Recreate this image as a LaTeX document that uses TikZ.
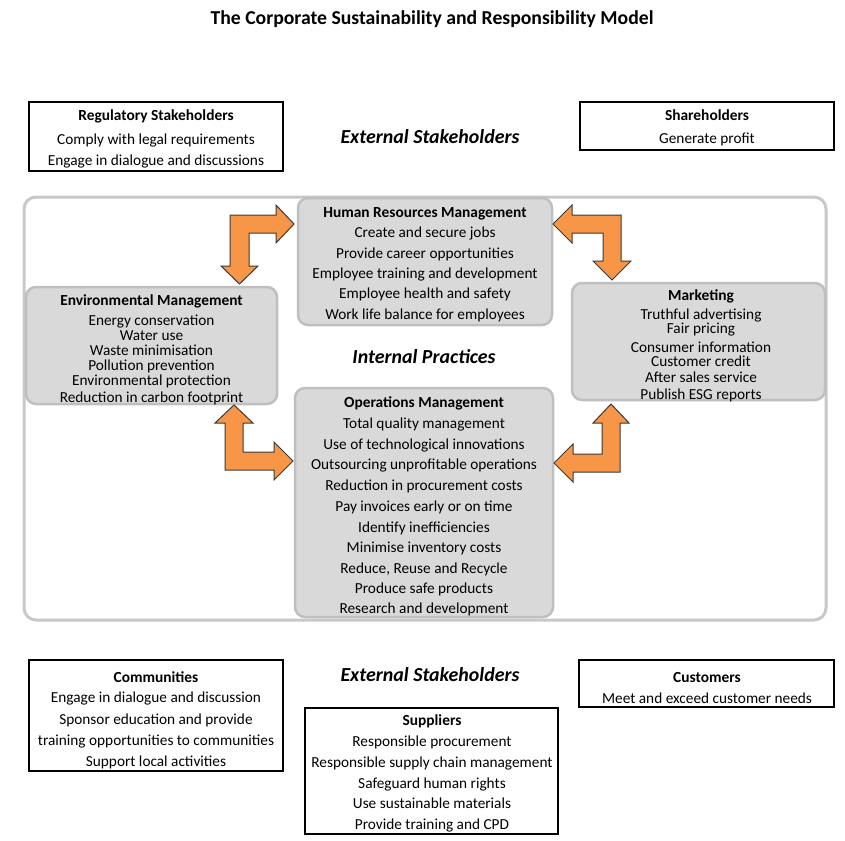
\documentclass[tikz,border=0pt]{standalone}
\usepackage{fontspec}
\setmainfont{Carlito}
\definecolor{boxfill}{HTML}{D9D9D9}
\definecolor{boxborder}{HTML}{BFBFBF}
\definecolor{outerborder}{HTML}{C8C8C8}
\definecolor{arrorange}{HTML}{F79646}
\definecolor{arrline}{HTML}{3A3A3A}
\begin{document}
\begin{tikzpicture}[x=1pt,y=-1pt,
  outbox/.style={draw=black, line width=1.3pt, fill=white, inner sep=0pt},
  inbox/.style={draw=boxborder, line width=2.5pt, fill=boxfill, rounded corners=10pt, inner sep=0pt},
  bigbox/.style={draw=outerborder, line width=3pt, fill=white, rounded corners=12pt, inner sep=0pt},
  hd/.style={font=\bfseries\fontsize{15.4}{17}\selectfont, inner sep=0pt, anchor=base, yshift=-5.2pt},
  ln/.style={font=\fontsize{15.3}{17}\selectfont, inner sep=0pt, anchor=base, yshift=-5.2pt},
  big/.style={font=\bfseries\itshape\fontsize{19.9}{22}\selectfont, inner sep=0pt, anchor=base, yshift=-6.8pt},
  arr/.style={fill=arrorange, draw=arrline, line width=1pt, line join=miter}]
\useasboundingbox (0,0) rectangle (845,840);

% title
\node[font=\bfseries\fontsize{19.7}{22}\selectfont, inner sep=0pt, anchor=base, yshift=-6.7pt] (title) at (432,18) {The Corporate Sustainability and Responsibility Model};

% outer boxes
\node[outbox, minimum width=254, minimum height=69] (reg) at (156,136.5) {};
\node[outbox, minimum width=254, minimum height=48] (share) at (707,126) {};
\node[outbox, minimum width=254, minimum height=111] (comm) at (156,715.5) {};
\node[outbox, minimum width=255, minimum height=47] (cust) at (706.5,683.5) {};
\node[outbox, minimum width=253, minimum height=126] (supp) at (431.5,771) {};

% big rounded frame
\node[bigbox, minimum width=802, minimum height=423] (frame) at (425,408.5) {};

% inner boxes
\node[inbox, minimum width=254, minimum height=127] (hrm) at (425,261.5) {};
\node[inbox, minimum width=251, minimum height=117] (env) at (151.5,345.5) {};
\node[inbox, minimum width=253, minimum height=117] (mkt) at (698.5,341.5) {};
\node[inbox, minimum width=258, minimum height=229] (ops) at (424,502.5) {};

% section labels
\node[big] (ext1) at (430,137) {External Stakeholders};
\node[big] (ext2) at (430,675) {External Stakeholders};
\node[big] (intp) at (424,357) {Internal Practices};

% Regulatory
\node[hd] (regh) at (156,115) {Regulatory Stakeholders};
\node[ln] (reg1) at (156,139) {Comply with legal requirements};
\node[ln] (reg2) at (156,160) {Engage in dialogue and discussions};

% Shareholders
\node[hd] (shareh) at (707,115) {Shareholders};
\node[ln] (share1) at (707,138) {Generate profit};

% HRM
\node[hd] (hrmh) at (425,212) {Human Resources Management};
\foreach \t/\yy [count=\i] in {Create and secure jobs/232, Provide career opportunities/253, Employee training and development/273, Employee health and safety/293, Work life balance for employees/314}
  \node[ln] (hrm\i) at (425,\yy) {\t};

% Environmental
\node[hd] (envh) at (151.5,300) {Environmental Management};
\foreach \t/\yy [count=\i] in {Energy conservation/320.5, Water use/335, Waste minimisation/350.5, Pollution prevention/365, Environmental protection/380, Reduction in carbon footprint/397}
  \node[ln] (env\i) at (151.5,\yy) {\t};

% Marketing
\node[hd] (mkth) at (701,295) {Marketing};
\foreach \t/\yy [count=\i] in {Truthful advertising/314, Fair pricing/328, Consumer information/347, Customer credit/361, After sales service/377, Publish ESG reports/394}
  \node[ln] (mkt\i) at (701,\yy) {\t};

% Operations
\node[hd] (opsh) at (424,402) {Operations Management};
\foreach \t/\yy [count=\i] in {Total quality management/423, Use of technological innovations/444, Outsourcing unprofitable operations/464, Reduction in procurement costs/485, Pay invoices early or on time/506, Identify inefficiencies/527, Minimise inventory costs/547, {Reduce, Reuse and Recycle}/568, Produce safe products/588, Research and development/608}
  \node[ln] (ops\i) at (424,\yy) {\t};

% Communities
\node[hd] (commh) at (156,677) {Communities};
\foreach \t/\yy [count=\i] in {Engage in dialogue and discussion/697, Sponsor education and provide/719, training opportunities to communities/740, Support local activities/761}
  \node[ln] (comm\i) at (156,\yy) {\t};

% Customers
\node[hd] (custh) at (707,677) {Customers};
\node[ln] (cust1) at (707,698) {Meet and exceed customer needs};

% Suppliers
\node[hd] (supph) at (432,720) {Suppliers};
\foreach \t/\yy [count=\i] in {Responsible procurement/741, Responsible supply chain management/762, Safeguard human rights/783, Use sustainable materials/803, Provide training and CPD/824}
  \node[ln] (supp\i) at (432,\yy) {\t};

% block arrows
\draw[arr] (294,224) -- (276,205) -- (276,215) -- (230,215) -- (230,266) -- (221,266) -- (239.5,284) -- (258,266) -- (249,266) -- (249,233) -- (276,233) -- (276,243) -- cycle;
\draw[arr] (553,224) -- (572,205) -- (572,215) -- (621,215) -- (621,261) -- (631,261) -- (612,280) -- (593,261) -- (603,261) -- (603,233) -- (572,233) -- (572,243) -- cycle;
\draw[arr] (234,405) -- (253,423) -- (243,423) -- (243,452) -- (274,452) -- (274,442) -- (293,461) -- (274,480) -- (274,470) -- (225,470) -- (225,423) -- (215,423) -- cycle;
\draw[arr] (611,404) -- (629,423) -- (620,423) -- (620,472) -- (573,472) -- (573,482) -- (554,463) -- (573,444) -- (573,454) -- (602,454) -- (602,423) -- (593,423) -- cycle;
\end{tikzpicture}
\end{document}
